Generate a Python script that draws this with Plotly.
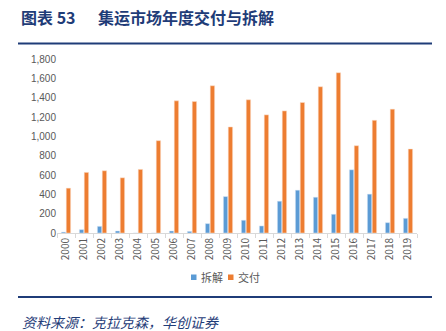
import plotly.graph_objects as go

years = [str(y) for y in range(2000, 2020)]
scrap = [10, 35, 69, 21, 0, 0, 21, 17, 97, 377, 132, 73, 329, 443, 370, 194, 654, 402, 107, 152]
deliv = [464, 627, 644, 571, 658, 955, 1367, 1360, 1523, 1097, 1378, 1222, 1263, 1350, 1513, 1658, 903, 1166, 1281, 869]
y_ticks = list(range(0, 1801, 200))

BLUE = "#5B9BD5"
ORANGE = "#ED7D31"
NAVY = "#1F3C78"
FONT = "Noto Sans CJK SC"

L, R, T, B = 57, 29, 59, 98
W, H = 446, 331
pw = W - L - R
ph = H - T - B

def px(x):
    return (x - L) / pw

def py(y):
    return (H - B - y) / ph

fig = go.Figure()
fig.add_bar(x=years, y=scrap, name="拆解", marker=dict(color=BLUE, line=dict(color="#DCE9F6", width=0.5)))
fig.add_bar(x=years, y=deliv, name="交付", marker=dict(color=ORANGE, line=dict(color="#FBE0CF", width=0.5)))

fig.update_layout(
    width=W, height=H,
    margin=dict(l=L, r=R, t=T, b=B),
    paper_bgcolor="white", plot_bgcolor="white",
    barmode="group", bargap=0.46, bargroupgap=0.1,
    font=dict(family=FONT, color="#595959"),
    showlegend=False,
    xaxis=dict(type="category", showline=True, linecolor="#D9D9D9", linewidth=1,
               ticks="outside", tickson="boundaries", ticklen=4, tickcolor="#D9D9D9",
               tickangle=-90, tickfont=dict(size=10, color="#595959", family=FONT),
               showgrid=False),
    yaxis=dict(range=[0, 1800], tickvals=y_ticks, tickformat=",", showgrid=False,
               showline=False, zeroline=False, ticks="",
               tickfont=dict(size=10, color="#595959", family="Liberation Sans")),
)

# legend drawn manually (compact, as in the reference)
legend_items = [("拆解", BLUE, 191), ("交付", ORANGE, 228)]
for name, col, x0 in legend_items:
    fig.add_shape(type="rect", xref="paper", yref="paper",
                  x0=px(x0), x1=px(x0 + 5.5), y0=py(274.5), y1=py(280),
                  fillcolor=col, line=dict(width=0))
    fig.add_annotation(text=name, xref="paper", yref="paper", x=px(x0 + 8), y=py(277),
                       xanchor="left", yanchor="middle", showarrow=False,
                       font=dict(size=11, color="#595959", family=FONT))

fig.add_annotation(text="<b>图表 53</b>", xref="paper", yref="paper", x=px(19), y=py(17),
                   xanchor="left", yanchor="middle", showarrow=False,
                   font=dict(size=16, color=NAVY, family=FONT))
fig.add_annotation(text="<b>集运市场年度交付与拆解</b>", xref="paper", yref="paper", x=px(96), y=py(17),
                   xanchor="left", yanchor="middle", showarrow=False,
                   font=dict(size=16, color=NAVY, family=FONT))
fig.add_shape(type="line", xref="paper", yref="paper", x0=px(18), x1=px(432), y0=py(43.5), y1=py(43.5),
              line=dict(color=NAVY, width=2))
fig.add_shape(type="line", xref="paper", yref="paper", x0=px(18), x1=px(432), y0=py(297), y1=py(297),
              line=dict(color=NAVY, width=2))
fig.add_annotation(text="<i>资料来源：克拉克森，华创证券 </i>", xref="paper", yref="paper", x=px(19), y=py(322),
                   xanchor="left", yanchor="middle", showarrow=False, borderpad=2,
                   font=dict(size=14, color=NAVY, family=FONT))

fig.write_html("out.html")
